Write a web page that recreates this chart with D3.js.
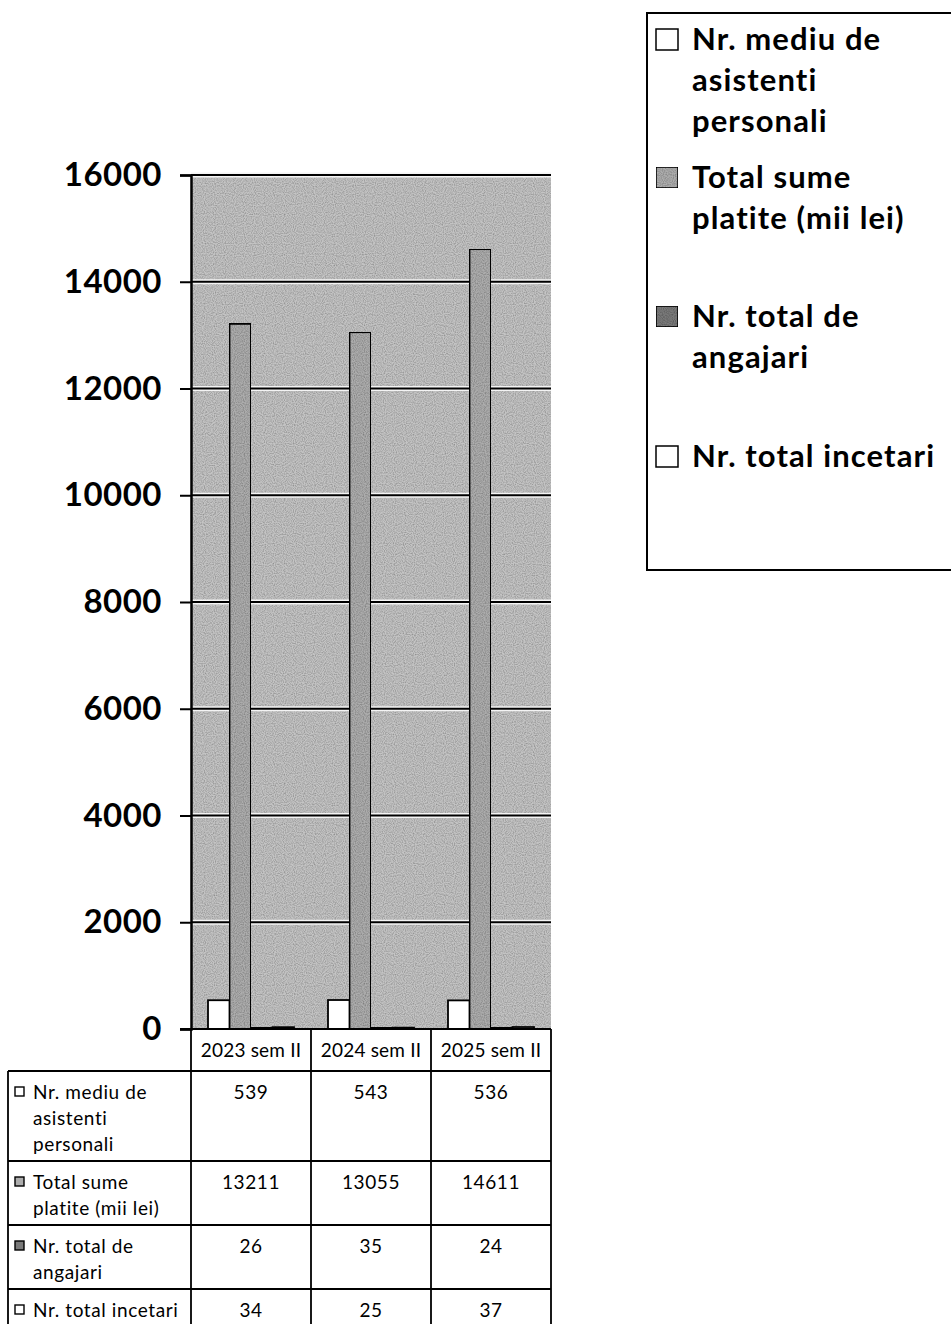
<!DOCTYPE html>
<html>
<head>
<meta charset="utf-8">
<script src="https://cdn.jsdelivr.net/npm/d3@7"></script>
<style>
  html, body { margin: 0; padding: 0; background: #fff; }
  svg { display: block; }
</style>
</head>
<body>
<svg id="chart" width="951" height="1324"></svg>
<script>
// ---- data ----
const categories = ["2023 sem II", "2024 sem II", "2025 sem II"];
const seriesKeys = ["mediu", "sume", "angajari", "incetari"];
const mediuValues = [539, 543, 536];
const sumeValues = [13211, 13055, 14611];
const angajariValues = [26, 35, 24];
const incetariValues = [34, 25, 37];
const legendLabels = [
  ["Nr. mediu de", "asistenti", "personali"],
  ["Total sume", "platite (mii lei)"],
  ["Nr. total de", "angajari"],
  ["Nr. total incetari"]
];
const tableLabels = [
  ["Nr. mediu de", "asistenti", "personali"],
  ["Total sume", "platite (mii lei)"],
  ["Nr. total de", "angajari"],
  ["Nr. total incetari"]
];
const yTicks = [0, 2000, 4000, 6000, 8000, 10000, 12000, 14000, 16000];

const seriesValues = [mediuValues, sumeValues, angajariValues, incetariValues];
const seriesFill = ["#ffffff", "#adadad", "#7a7a7a", "#ffffff"];

// ---- layout ----
const svg = d3.select("#chart");
const plotLeft = 191, plotRight = 551, plotTop = 175, plotBottom = 1029;
const FONT = "Lato, 'Open Sans', sans-serif";

const y = d3.scaleLinear().domain([0, 16000]).range([plotBottom, plotTop]);
const x0 = d3.scaleBand().domain(categories).range([plotLeft, plotRight]).padding(0);
const x1 = d3.scaleBand().domain(seriesKeys).range([17, x0.bandwidth() - 17]).padding(0);

// noise texture filter
const defs = svg.append("defs");
const f = defs.append("filter").attr("id", "grain").attr("x", 0).attr("y", 0).attr("width", 1).attr("height", 1);
f.append("feTurbulence").attr("type", "fractalNoise").attr("baseFrequency", 0.9).attr("numOctaves", 1).attr("seed", 3).attr("result", "n");
f.append("feColorMatrix").attr("in", "n").attr("type", "matrix")
  .attr("values", "0 0 0 0 0  0 0 0 0 0  0 0 0 0 0  0 0 0 1.0 -0.35").attr("result", "a");
f.append("feComposite").attr("in", "a").attr("in2", "SourceGraphic").attr("operator", "in").attr("result", "b");
f.append("feMerge").selectAll("feMergeNode").data(["SourceGraphic", "b"]).join("feMergeNode").attr("in", d => d);

// plot background
svg.append("rect")
  .attr("x", plotLeft).attr("y", plotTop)
  .attr("width", plotRight - plotLeft).attr("height", plotBottom - plotTop)
  .attr("fill", "#c4c4c4").attr("filter", "url(#grain)");

// gridlines
const grid = svg.append("g");
grid.selectAll("line.w").data(yTicks.slice(1)).join("line")
  .attr("x1", plotLeft).attr("x2", plotRight)
  .attr("y1", d => y(d)).attr("y2", d => y(d))
  .attr("stroke", "#f4f4f4").attr("stroke-width", 5);
grid.selectAll("line.b").data(yTicks.slice(1)).join("line")
  .attr("x1", plotLeft).attr("x2", plotRight)
  .attr("y1", d => y(d)).attr("y2", d => y(d))
  .attr("stroke", "#000").attr("stroke-width", 2.2);

// bars
const barG = svg.append("g");
categories.forEach((c, ci) => {
  seriesKeys.forEach((k, si) => {
    const v = seriesValues[si][ci];
    barG.append("rect")
      .attr("x", x0(c) + x1(k))
      .attr("y", y(v))
      .attr("width", x1.bandwidth())
      .attr("height", plotBottom - y(v))
      .attr("fill", seriesFill[si])
      .attr("stroke", "#000").attr("stroke-width", 1.8)
      .attr("filter", si === 1 || si === 2 ? "url(#grain)" : null);
  });
});

// y axis
const yAxis = d3.axisLeft(y).tickValues(yTicks).tickSize(11).tickPadding(18).tickFormat(d3.format("d"));
const yg = svg.append("g").attr("transform", `translate(${plotLeft},0)`).call(yAxis);
yg.select(".domain").attr("stroke", "#000").attr("stroke-width", 2.5);
yg.selectAll(".tick line").attr("stroke", "#000").attr("stroke-width", 2);
yg.selectAll(".tick text")
  .attr("font-family", FONT).attr("font-weight", "bold").attr("font-size", 33)
  .attr("letter-spacing", 0.5)
  .attr("fill", "#000");

// x baseline
svg.append("line").attr("x1", plotLeft - 11).attr("x2", plotRight)
  .attr("y1", plotBottom).attr("y2", plotBottom)
  .attr("stroke", "#000").attr("stroke-width", 2);

// ---- data table ----
const tbl = svg.append("g");
const tableLeft = 8, headerBottom = 1071;
const lineH = 26;
const TFS = 19;
const rowTops = [];
let t = headerBottom;
tableLabels.forEach(lines => { rowTops.push(t); t += 12 + lineH * lines.length; });
const tableBottom = t;

// header
tbl.selectAll("text.hdr").data(categories).join("text")
  .attr("x", d => x0(d) + x0.bandwidth() / 2).attr("y", 1057)
  .attr("text-anchor", "middle")
  .attr("font-family", FONT).attr("font-size", TFS).attr("letter-spacing", 0.2).attr("fill", "#000")
  .text(d => d);

// horizontal lines
tbl.append("line").attr("x1", tableLeft).attr("x2", plotRight).attr("y1", headerBottom).attr("y2", headerBottom)
  .attr("stroke", "#000").attr("stroke-width", 1.8);
rowTops.slice(1).concat([tableBottom]).forEach(yy => {
  tbl.append("line").attr("x1", tableLeft).attr("x2", plotRight).attr("y1", yy).attr("y2", yy)
    .attr("stroke", "#000").attr("stroke-width", 1.8);
});
// vertical lines
const vxs = [plotLeft].concat(categories.map(c => x0(c) + x0.bandwidth()));
vxs.forEach(xx => {
  tbl.append("line").attr("x1", xx).attr("x2", xx).attr("y1", plotBottom).attr("y2", tableBottom)
    .attr("stroke", "#000").attr("stroke-width", 1.8);
});
tbl.append("line").attr("x1", tableLeft).attr("x2", tableLeft).attr("y1", headerBottom).attr("y2", tableBottom)
  .attr("stroke", "#000").attr("stroke-width", 1.8);

// rows
tableLabels.forEach((lines, ri) => {
  const top = rowTops[ri];
  tbl.append("rect").attr("x", 15).attr("y", top + 16).attr("width", 9).attr("height", 9)
    .attr("fill", seriesFill[ri]).attr("stroke", "#000").attr("stroke-width", 1.4);
  lines.forEach((ln, li) => {
    tbl.append("text").attr("x", 33).attr("y", top + 28 + li * lineH)
      .attr("font-family", FONT).attr("font-size", TFS).attr("letter-spacing", 0.6)
      .attr("fill", "#000").text(ln);
  });
  categories.forEach((c, ci) => {
    tbl.append("text").attr("x", x0(c) + x0.bandwidth() / 2).attr("y", top + 28)
      .attr("text-anchor", "middle")
      .attr("font-family", FONT).attr("font-size", TFS).attr("letter-spacing", 0.6)
      .attr("fill", "#000")
      .text(seriesValues[ri][ci]);
  });
});

// ---- legend ----
const lg = svg.append("g");
lg.append("rect").attr("x", 647).attr("y", 13).attr("width", 320).attr("height", 557)
  .attr("fill", "#fff").attr("stroke", "#000").attr("stroke-width", 2);
const entryBase = [50, 188, 327, 467];
legendLabels.forEach((lines, i) => {
  lg.append("rect").attr("x", 656).attr("y", entryBase[i] - 21).attr("width", 22).attr("height", 21)
    .attr("fill", seriesFill[i]).attr("stroke", "#000").attr("stroke-width", 1.5)
    .attr("filter", i === 1 || i === 2 ? "url(#grain)" : null);
  lines.forEach((ln, li) => {
    lg.append("text").attr("x", 692).attr("y", entryBase[i] + li * 41)
      .attr("font-family", FONT).attr("font-weight", "bold").attr("font-size", 31)
      .attr("letter-spacing", 1.1)
      .attr("fill", "#000").text(ln);
  });
});
</script>
</body>
</html>
